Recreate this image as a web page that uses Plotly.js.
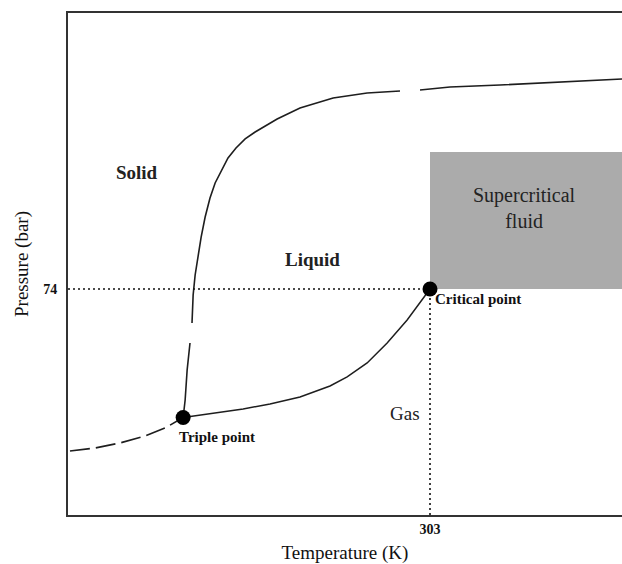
<!DOCTYPE html>
<html>
<head>
<meta charset="utf-8">
<script src="https://cdn.plot.ly/plotly-3.0.1.min.js"></script>
<style>html,body{margin:0;padding:0;background:#fff;}#chart{width:622px;height:564px;}</style>
</head>
<body>
<div id="chart"></div>
<script>
// ---- data (temperature in K, pressure in bar, read from the schematic) ----
const subT = [177.0, 185.8, 194.5, 203.3, 210.3, 216.6];
const subP = [2.54, 2.70, 3.00, 3.47, 4.10, 5.1];

const vapT = [216.6, 227.8, 237.6, 247.0, 257.5, 268.0, 274.0, 281.0, 288.0, 295.0, 299.5, 303.0];
const vapP = [5.1, 5.60, 6.09, 6.75, 7.81, 9.82, 11.85, 15.86, 24.05, 38.8, 56.4, 74];

const meltT = [216.6, 217.3, 218.0, 219.0, null, 219.7, 220.1, 220.8, 221.8, 222.9, 224.3, 226.0, 227.8, 230.2, 232.3, 235.1, 238.3, 241.8, 245.3, 249.5, 257.5, 269.1, 281.0, 292.5, null, 299.5, 310.0, 327.5, 348.5, 370.2];
const meltP = [5.1, 7.34, 13.71, 24.05, null, 36.5, 65.3, 99.0, 144, 218, 331, 492, 672, 881, 1131, 1392, 1680, 1943, 2201, 2547, 3203, 3943, 4375, 4561, null, 4658, 4958, 5168, 5503, 5857];

const pointNames = ["Triple point", "Critical point"];
const pointT = [216.6, 303];
const pointP = [5.1, 74];

const regionNames = ["Solid", "Liquid", "Gas", "Supercritical<br>fluid"];
const superTmin = 303, superPmin = 74, superPmax = 1281;

const xTickVals = [303], xTickText = ["303"];
const yTickVals = [74], yTickText = ["74"];

const xRange = [176.3, 370.2];
const yRangeLog = [-0.174, 4.364];
const pBottom = Math.pow(10, yRangeLog[0]);

const serif = "Liberation Serif, Times New Roman, serif";
const lineCol = "#1e1e1e";

const traces = [
  {x: subT, y: subP, mode: "lines", line: {color: lineCol, width: 1.6, dash: "20px,6px"}, hoverinfo: "skip"},
  {x: vapT, y: vapP, mode: "lines", line: {color: lineCol, width: 1.5}, hoverinfo: "skip"},
  {x: meltT, y: meltP, mode: "lines", connectgaps: false, line: {color: lineCol, width: 1.6}, hoverinfo: "skip"},
  {x: [xRange[0], pointT[1]], y: [pointP[1], pointP[1]], mode: "lines", line: {color: "#111", width: 1.6, dash: "2px,3px"}, hoverinfo: "skip"},
  {x: [pointT[1], pointT[1]], y: [pBottom, pointP[1]], mode: "lines", line: {color: "#111", width: 1.6, dash: "2px,3px"}, hoverinfo: "skip"},
  {x: pointT, y: pointP, mode: "markers", marker: {color: "#000", size: 15}, hoverinfo: "skip"}
];

const layout = {
  width: 622, height: 564,
  margin: {l: 68, r: 0, t: 13, b: 49},
  paper_bgcolor: "#fff", plot_bgcolor: "#fff",
  showlegend: false,
  font: {family: serif, color: "#111"},
  xaxis: {
    range: xRange, showgrid: false, zeroline: false,
    showline: true, linecolor: "#333", linewidth: 2, mirror: true,
    tickvals: xTickVals, ticktext: xTickText, ticks: "",
    ticklabelstandoff: 0,
    tickfont: {family: serif, size: 14, color: "#111", weight: "bold"},
    title: {text: "Temperature (K)", font: {family: serif, size: 19, color: "#111"}, standoff: 12}
  },
  yaxis: {
    type: "log", range: yRangeLog, showgrid: false, zeroline: false,
    showline: true, linecolor: "#333", linewidth: 2, mirror: false,
    tickvals: yTickVals, ticktext: yTickText, ticks: "",
    ticklabelstandoff: 6,
    tickfont: {family: serif, size: 14, color: "#111", weight: "bold"},
    title: {text: "Pressure (bar)", font: {family: serif, size: 19, color: "#111"}, standoff: 10}
  },
  shapes: [{
    type: "rect", xref: "x", yref: "y", layer: "below",
    x0: superTmin, x1: xRange[1], y0: superPmin, y1: superPmax,
    fillcolor: "#ababab", line: {width: 0}
  }],
  annotations: [
    {x: 200.45, y: 2.918, text: regionNames[0], showarrow: false, font: {size: 19, weight: "bold", color: "#222"}},
    {x: 261.7, y: 2.140, text: regionNames[1], showarrow: false, font: {size: 19, weight: "bold", color: "#222"}},
    {x: 294.25, y: 0.748, text: regionNames[2], showarrow: false, font: {size: 19, color: "#222"}},
    {x: 335.9, y: 2.601, text: regionNames[3], showarrow: false, font: {size: 20, color: "#222"}},
    {x: 228.4, y: 0.531, text: pointNames[0], showarrow: false, font: {size: 15, weight: "bold"}},
    {x: 304.2, y: 1.779, text: pointNames[1], showarrow: false, xanchor: "left", font: {size: 15, weight: "bold"}}
  ]
};

Plotly.newPlot("chart", traces, layout, {displayModeBar: false, staticPlot: true});
</script>
</body>
</html>
